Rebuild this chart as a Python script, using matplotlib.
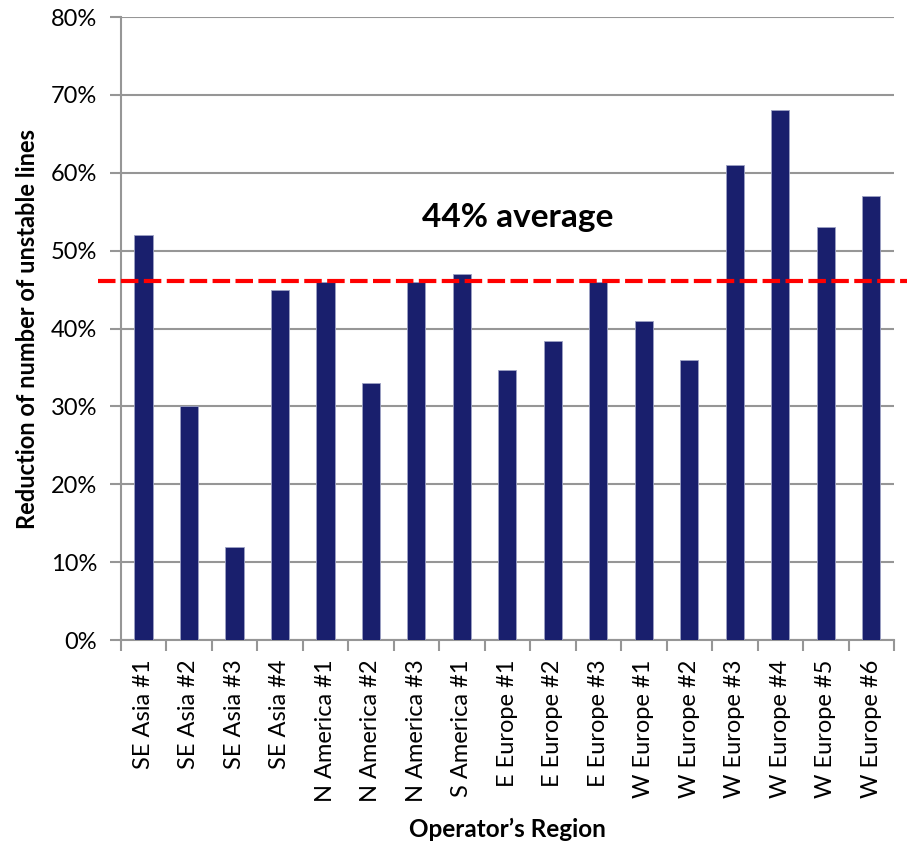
import matplotlib
matplotlib.use("Agg")
import matplotlib.pyplot as plt
from matplotlib.ticker import PercentFormatter, FixedLocator

plt.rcParams['font.family'] = ['Lato', 'DejaVu Sans']

regions = ["SE Asia #1", "SE Asia #2", "SE Asia #3", "SE Asia #4",
           "N America #1", "N America #2", "N America #3", "S America #1",
           "E Europe #1", "E Europe #2", "E Europe #3",
           "W Europe #1", "W Europe #2", "W Europe #3", "W Europe #4",
           "W Europe #5", "W Europe #6"]
reduction = [52, 30, 12, 45, 46, 33, 46, 47, 34.7, 38.4, 46,
             41, 36, 61, 68, 53, 57]
average_line = 46.1
average_label = "44% average"

fig = plt.figure(figsize=(9.07, 8.43), dpi=100)
ax = fig.add_axes([0.1331, 0.2408, 0.8526, 0.7390])

x = list(range(len(regions)))
ax.bar(x, reduction, width=0.40, color="#191f6d", edgecolor="#9da2c4",
       linewidth=0.6, zorder=3)

ax.set_xlim(-0.5, len(regions) - 0.5)
ax.set_ylim(0, 80)
ax.set_yticks(range(0, 81, 10))
ax.yaxis.set_major_formatter(PercentFormatter(decimals=0))
ax.yaxis.grid(True, color="#969696", linewidth=1.5, zorder=0)
ax.set_axisbelow(True)

ax.set_xticks(x)
ax.set_xticklabels(regions, rotation=90, fontsize=17)
ax.xaxis.set_minor_locator(FixedLocator([i - 0.5 for i in range(len(regions) + 1)]))
ax.tick_params(axis="x", which="major", length=0, pad=14)
ax.tick_params(axis="x", which="minor", length=8, width=1.5, color="#969696")
ax.tick_params(axis="y", length=8, width=1.5, color="#969696", labelsize=17, pad=9)

for side in ("top", "right"):
    ax.spines[side].set_visible(False)
for side in ("left", "bottom"):
    ax.spines[side].set_color("#969696")
    ax.spines[side].set_linewidth(1.5)

ax.axhline(average_line, xmin=-0.029, xmax=1.03, color="#ff0000",
           linewidth=3, linestyle=(0, (4.2, 1.3)), clip_on=False, zorder=4)
ax.text(8.23, 54.2, average_label, ha="center", va="center",
        fontsize=24, fontweight="bold", zorder=5)

ax.set_ylabel("Reduction of number of unstable lines", fontsize=17,
              fontweight="bold", labelpad=8)
ax.set_xlabel("Operator\u2019s Region", fontsize=17.5, fontweight="bold",
              labelpad=11)

fig.savefig("out.png", dpi=100)
